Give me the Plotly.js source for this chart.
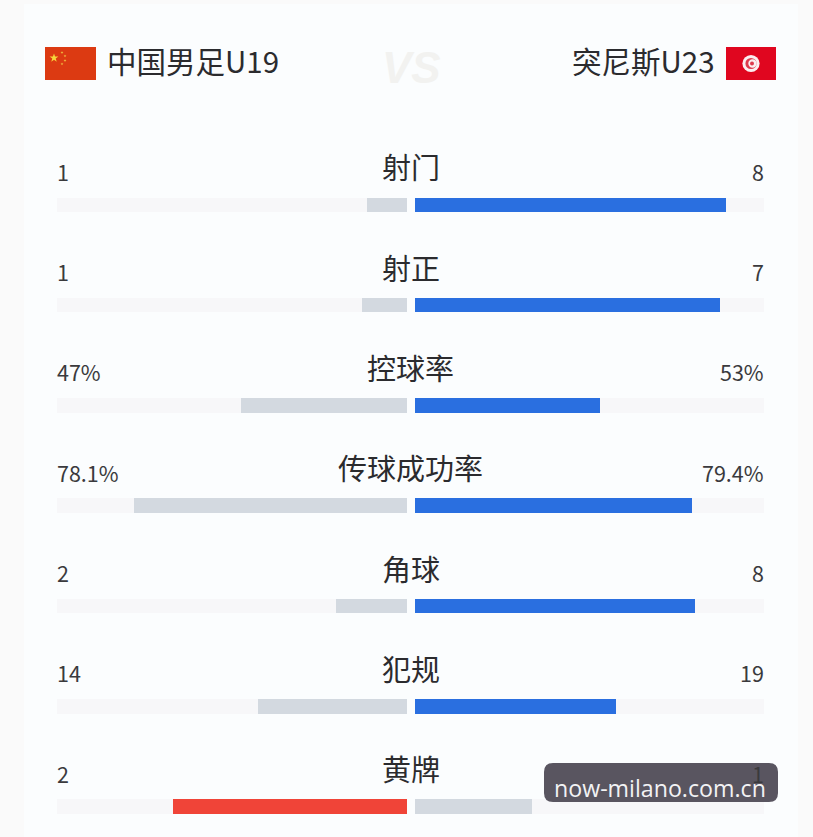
<!DOCTYPE html>
<html><head><meta charset="utf-8">
<script src="https://cdn.plot.ly/plotly-3.0.1.min.js"></script>
<style>html,body{margin:0;padding:0;background:#fafafa;overflow:hidden}</style>
</head><body><div id="chart" style="width:813px;height:837px"></div>
<script>
const categories = ['射门','射正','控球率','传球成功率','角球','犯规','黄牌'];
const leftLabels = ['1','1','47%','78.1%','2','14','2'];
const rightLabels = ['8','7','53%','79.4%','8','19','1'];
const leftShare = [11.4,12.9,47.3,78.1,20.3,42.6,66.8];
const rightShare = [89.1,87.5,53,79.4,80.2,57.6,33.4];
const track = [100,100,100,100,100,100,100];
const leftColors = ['#d3d9e0','#d3d9e0','#d3d9e0','#d3d9e0','#d3d9e0','#d3d9e0','#f04438'];
const rightColors = ['#2a6fe0','#2a6fe0','#2a6fe0','#2a6fe0','#2a6fe0','#2a6fe0','#d3d9e0'];
const teamLeft = '中国男足U19', teamRight = '突尼斯U23', watermark = 'now-milano.com.cn';

const W = 813, H = 837;
const CJK = '"Noto Sans CJK SC","Noto Sans",sans-serif';
const INK = '#2b2b2e';
const px = v => v / W, py = v => 1 - v / H;
const pitch = 100.3, firstRow = 204.8;

function bar(x, color, xa) {
  return {type:'bar', orientation:'h', x, y:categories, xaxis:xa, yaxis:'y',
    width:0.145, marker:{color, line:{width:0}}, hoverinfo:'skip', showlegend:false};
}
const data = [
  bar(track,'#f7f7f9','x'), bar(leftShare,leftColors,'x'),
  bar(track,'#f7f7f9','x2'), bar(rightShare,rightColors,'x2')
];

function note(text, x, y, size, anchor, color, extra) {
  return Object.assign({xref:'paper', yref:'paper', x:px(x), y:py(y), text, showarrow:false,
    xanchor:anchor, yanchor:'middle', font:{family:CJK, size, color:color||INK}}, extra||{});
}
const annotations = [
  note(teamLeft,105,60,29.5,'left'),
  note(teamRight,717,60,29.5,'right'),
  note('VS',411,67,42,'center','#f2f2f0',{font:{family:'"Liberation Sans Narrow","Liberation Sans",sans-serif',size:44,color:'#f2f2f0',weight:700,style:'italic'}})
];
categories.forEach((c,i)=>{
  const yc = firstRow + pitch*i;
  annotations.push(note(c,410.5,yc-38.5,29,'center'));
  annotations.push(note(leftLabels[i],55,yc-33.5,21.5,'left','#3a3a3d'));
  annotations.push(note(rightLabels[i],766,yc-33.5,21.5,'right','#3a3a3d'));
});
annotations.push(note(watermark,660,788,23.2,'center','#f2f2f4',{font:{family:'"Open Sans",sans-serif',size:23.2,color:'#f2f2f4'}}));

function rr(x0,y0,x1,y1,r){
  const X=px,Y=py;
  return `M${X(x0+r)},${Y(y0)}L${X(x1-r)},${Y(y0)}Q${X(x1)},${Y(y0)} ${X(x1)},${Y(y0+r)}L${X(x1)},${Y(y1-r)}Q${X(x1)},${Y(y1)} ${X(x1-r)},${Y(y1)}L${X(x0+r)},${Y(y1)}Q${X(x0)},${Y(y1)} ${X(x0)},${Y(y1-r)}L${X(x0)},${Y(y0+r)}Q${X(x0)},${Y(y0)} ${X(x0+r)},${Y(y0)}Z`;
}
function star(cx,cy,R){
  let d='';
  for(let k=0;k<10;k++){
    const r=k%2?R*0.4:R, a=-Math.PI/2+k*Math.PI/5;
    d+=(k?'L':'M')+px(cx+r*Math.cos(a))+','+py(cy+r*Math.sin(a));
  }
  return d+'Z';
}
function circle(cx,cy,r,fill,layer){
  return {type:'circle',xref:'paper',yref:'paper',x0:px(cx-r),x1:px(cx+r),y0:py(cy+r),y1:py(cy-r),
    fillcolor:fill,line:{width:0},layer:layer||'above'};
}
function rect(x0,y0,x1,y1,fill,layer){
  return {type:'rect',xref:'paper',yref:'paper',x0:px(x0),x1:px(x1),y0:py(y1),y1:py(y0),
    fillcolor:fill,line:{width:0},layer:layer||'above'};
}
function path(d,fill,opacity){
  return {type:'path',xref:'paper',yref:'paper',path:d,fillcolor:fill,line:{width:0},layer:'above',opacity:opacity==null?1:opacity};
}
const shapes = [
  rect(0,0,813,837,'#fafafa','below'),
  rect(24,4,798,837,'#fbfdfe','below'),
  rect(45,47,96,80,'#dc3a12'),
  path(star(54,58,4.6),'#f5d63a'),
  path(star(62,52.5,1.5),'#f0c040'),
  path(star(65,56,1.5),'#f0c040'),
  path(star(65,60.5,1.5),'#f0c040'),
  path(star(62,64,1.5),'#f0c040'),
  rect(726,47,776,80,'#e0061f'),
  circle(751,63.5,8.6,'#fbeef0'),
  circle(751,63.5,5.6,'#dd3a4c'),
  circle(752.5,63.5,4.2,'#fbeef0'),
  circle(752,63.5,2,'#dd3a4c'),
  path(rr(544,763,778,802,9),'#595560',1)
];

const layout = {
  width:W, height:H, margin:{l:0,r:0,t:0,b:0}, paper_bgcolor:'#fafafa', plot_bgcolor:'rgba(0,0,0,0)',
  barmode:'overlay', bargap:0, showlegend:false,
  xaxis:{domain:[px(57),px(407)], range:[100,0], visible:false, fixedrange:true},
  xaxis2:{domain:[px(415),px(764)], range:[0,100], visible:false, fixedrange:true, anchor:'y'},
  yaxis:{domain:[0,1], type:'category', categoryorder:'array', categoryarray:categories,
    range:[(H-firstRow)/pitch, -firstRow/pitch], visible:false, fixedrange:true},
  shapes, annotations
};
Plotly.newPlot('chart', data, layout, {displayModeBar:false, staticPlot:true});
</script></body></html>
